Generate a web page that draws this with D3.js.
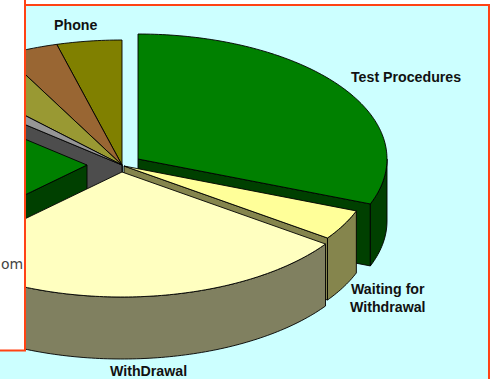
<!DOCTYPE html>
<html>
<head>
<meta charset="utf-8">
<script src="https://cdn.jsdelivr.net/npm/d3@7"></script>
<style>
html, body { margin: 0; padding: 0; background: #fff; overflow: hidden; }
svg { display: block; }
text { font-family: "Liberation Sans", Arial, sans-serif; font-weight: bold; font-size: 14.2px; fill: #111; }
</style>
</head>
<body>
<div id="chart"></div>
<script>
// Slice names, clockwise from 12 o'clock. Empty names had their labels cut off in the source.
const categories = ["Test Procedures", "Waiting for Withdrawal", "WithDrawal", "", "", "", "", "Phone"];
const values = [30.7, 3.9, 27.9, 23.1, 1.6, 4.5, 3.6, 4.2];

const topColors = ["#008000", "#ffff99", "#ffffc0", "#008000", "#969696", "#999933", "#996633", "#808000"];
const wallColors = ["#004000", "#85854d", "#808060", "#004000", "#4d4d4d", "#4d4d1a", "#4d3319", "#404000"];

// Offset of each exploded slice from the pie centre
const offsets = [[16, -6], [2, 1], [0, 7], [-35, 0], [0, 0], [0, 0], [0, 0], [0, 0]];

const svgWidth = 490, svgHeight = 379;
const cx = 122, cy = 165, rx = 249, ry = 125, depth = 62;
const borderColor = "#ff4314";

const svg = d3.select("#chart")
    .append("svg")
    .attr("width", svgWidth)
    .attr("height", svgHeight);

// Background panel
svg.append("rect")
    .attr("x", 0).attr("y", 6)
    .attr("width", svgWidth).attr("height", svgHeight)
    .attr("fill", "#ccffff");

const pie = d3.pie().sort(null).value(d => d)
    .startAngle(0).endAngle(2 * Math.PI);
const slices = pie(values).map((d, i) => ({
    ...d,
    name: categories[i],
    top: topColors[i],
    wall: wallColors[i],
    ox: cx + offsets[i][0],
    oy: cy + offsets[i][1]
}));

// Point on the squashed pie rim
const rim = (s, a, dz = 0) => [
    s.ox + rx * Math.sin(a),
    s.oy - ry * Math.cos(a) + dz
];

const line = d3.line();
const strokeIt = sel => sel.attr("stroke", "#000").attr("stroke-width", 0.9).attr("stroke-linejoin", "round");

function arcPoints(s, a0, a1, dz) {
    const n = Math.max(2, Math.ceil((a1 - a0) * 60));
    return d3.range(n + 1).map(i => rim(s, a0 + (a1 - a0) * i / n, dz));
}

function drawSlice(s) {
    const g = svg.append("g");
    const apex = [s.ox, s.oy], apexLow = [s.ox, s.oy + depth];
    // cut faces, only those that look towards the viewer
    const faces = [];
    if (s.startAngle > Math.PI) faces.push(s.startAngle);
    if (s.endAngle < Math.PI) faces.push(s.endAngle);
    faces.forEach(a => {
        g.append("path")
            .attr("d", line([apex, rim(s, a), rim(s, a, depth), apexLow]) + "Z")
            .attr("fill", s.wall)
            .call(strokeIt);
    });
    // outer wall, only the part turned towards the viewer
    const a0 = Math.max(s.startAngle, Math.PI / 2);
    const a1 = Math.min(s.endAngle, 3 * Math.PI / 2);
    if (a1 > a0) {
        const pts = arcPoints(s, a0, a1, 0).concat(arcPoints(s, a0, a1, depth).reverse());
        g.append("path")
            .attr("d", line(pts) + "Z")
            .attr("fill", s.wall)
            .call(strokeIt);
    }
    // top face
    const pts = [apex].concat(arcPoints(s, s.startAngle, s.endAngle, 0));
    g.append("path")
        .attr("d", line(pts) + "Z")
        .attr("fill", s.top)
        .call(strokeIt);
}

// Back slices first, the front ones last
[7, 6, 5, 4, 3, 0, 1, 2].forEach(i => drawSlice(slices[i]));

// Slice labels
const labelAt = {
    "Phone": [[54, 30]],
    "Test Procedures": [[351, 82]],
    "Waiting for Withdrawal": [[351, 294], [350, 312]],
    "WithDrawal": [[110, 376]]
};
const labelLines = {
    "Phone": ["Phone"],
    "Test Procedures": ["Test Procedures"],
    "Waiting for Withdrawal": ["Waiting for", "Withdrawal"],
    "WithDrawal": ["WithDrawal"]
};
slices.filter(s => s.name).forEach(s => {
    labelLines[s.name].forEach((t, i) => {
        svg.append("text")
            .attr("x", labelAt[s.name][i][0])
            .attr("y", labelAt[s.name][i][1])
            .text(t);
    });
});

// White page area that covers the left of the chart and the strip above it
svg.append("rect")
    .attr("x", 0).attr("y", 0)
    .attr("width", 24).attr("height", 350)
    .attr("fill", "#fff");
svg.append("rect")
    .attr("x", 0).attr("y", 0)
    .attr("width", svgWidth).attr("height", 5)
    .attr("fill", "#fff");

// Red frame
svg.append("path")
    .attr("d", `M25,0V350.5H0M24,5H${svgWidth - 1}V${svgHeight}`)
    .attr("fill", "none")
    .attr("stroke", borderColor)
    .attr("stroke-width", 2);

svg.append("text")
    .attr("x", 1).attr("y", 268.5)
    .style("font-family", "'DejaVu Sans'")
    .style("font-weight", "normal")
    .style("font-size", "14px")
    .style("fill", "#444")
    .text("om");
</script>
</body>
</html>
